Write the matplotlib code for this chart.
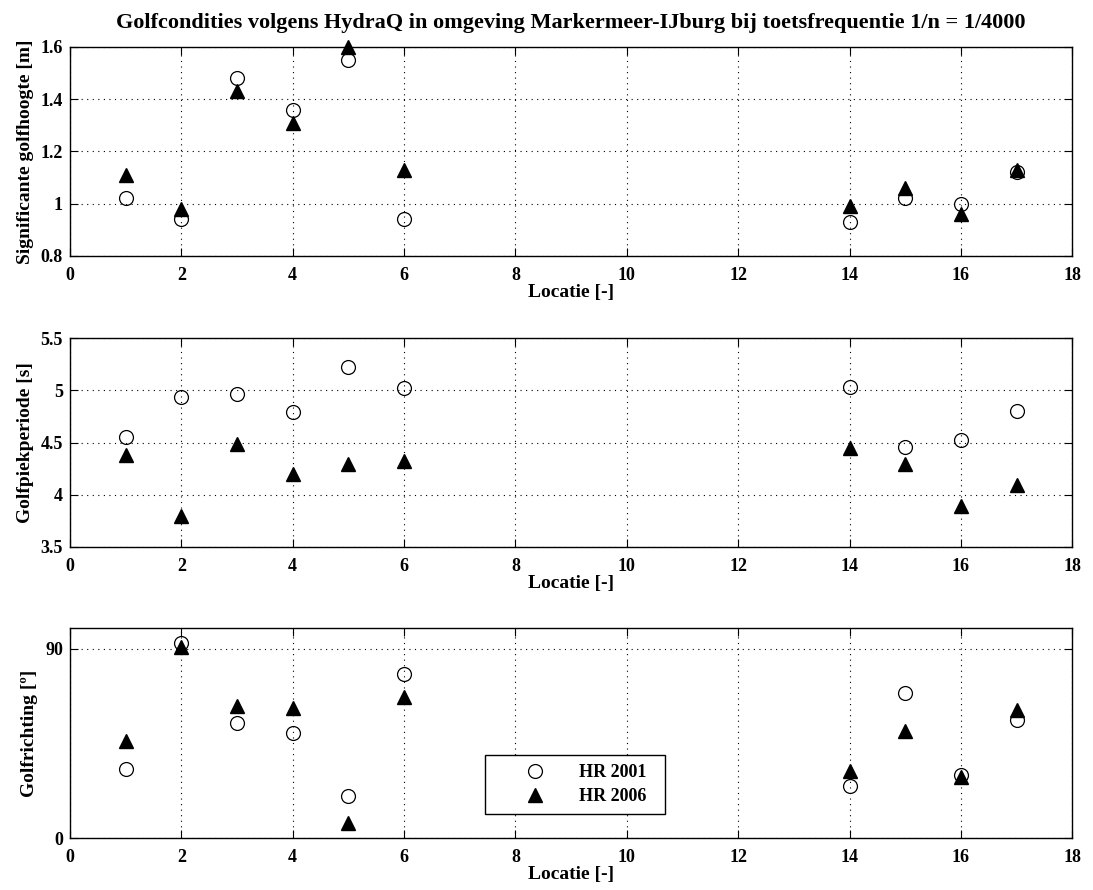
import matplotlib
matplotlib.use("Agg")
import matplotlib.pyplot as plt

plt.rcParams["font.family"] = ["Liberation Serif", "DejaVu Serif"]
plt.rcParams["font.weight"] = "bold"
plt.rcParams["axes.titleweight"] = "bold"
plt.rcParams["axes.labelweight"] = "bold"

# Locaties
locatie = [1, 2, 3, 4, 5, 6, 14, 15, 16, 17]

# Significante golfhoogte [m]
hs_2001 = [1.02, 0.94, 1.48, 1.36, 1.55, 0.94, 0.93, 1.02, 1.00, 1.12]
hs_2006 = [1.11, 0.98, 1.43, 1.31, 1.60, 1.13, 0.99, 1.06, 0.96, 1.13]

# Golfpiekperiode [s]
tp_2001 = [4.55, 4.94, 4.96, 4.79, 5.22, 5.02, 5.03, 4.46, 4.52, 4.80]
tp_2006 = [4.38, 3.80, 4.49, 4.20, 4.29, 4.32, 4.45, 4.29, 3.89, 4.09]

# Golfrichting [graden]
dir_2001 = [33, 93, 55, 50, 20, 78, 25, 69, 30, 56]
dir_2006 = [46, 91, 63, 62, 7, 67, 32, 51, 29, 61]

fig = plt.figure(figsize=(10.93, 8.9), dpi=100)
ax1 = fig.add_axes([0.064, 0.7124, 0.917, 0.2348])
ax2 = fig.add_axes([0.064, 0.3854, 0.917, 0.2348])
ax3 = fig.add_axes([0.064, 0.0584, 0.917, 0.236])

panels = [
    (ax1, hs_2001, hs_2006, "Significante golfhoogte [m]", (0.8, 1.6), [0.8, 1, 1.2, 1.4, 1.6], ["0.8", "1", "1.2", "1.4", "1.6"]),
    (ax2, tp_2001, tp_2006, "Golfpiekperiode [s]", (3.5, 5.5), [3.5, 4, 4.5, 5, 5.5], ["3.5", "4", "4.5", "5", "5.5"]),
    (ax3, dir_2001, dir_2006, "Golfrichting [º]", (0, 100), [0, 90], ["0", "90"]),
]

for ax, y1, y2, ylabel, ylim, yticks, ylabels in panels:
    ax.plot(locatie, y1, linestyle="none", marker="o", markersize=10,
            markerfacecolor="none", markeredgecolor="black", markeredgewidth=0.9,
            label="HR 2001", clip_on=False, zorder=3)
    ax.plot(locatie, y2, linestyle="none", marker="^", markersize=10,
            color="black", label="HR 2006", clip_on=False, zorder=4)
    ax.set_xlim(0, 18)
    ax.set_ylim(*ylim)
    ax.set_xticks(range(0, 19, 2))
    ax.set_yticks(yticks)
    ax.set_yticklabels(ylabels)
    ax.grid(True, color="black", linestyle=(0, (1, 4)), linewidth=0.8)
    ax.tick_params(direction="in", top=True, right=True, labelsize=13, length=6, width=0.8)
    ax.tick_params(axis="x", pad=8)
    ax.tick_params(axis="y", pad=5)
    ax.set_xlabel("Locatie [-]", fontsize=14, labelpad=0)
    ax.set_ylabel(ylabel, fontsize=14, labelpad=5)
    for s in ax.spines.values():
        s.set_linewidth(1.0)

ax1.set_title("Golfcondities volgens HydraQ in omgeving Markermeer-IJburg bij toetsfrequentie 1/n = 1/4000",
              fontsize=16, pad=14)

leg = ax3.legend(loc="upper left", bbox_to_anchor=(0.414, 0.395, 0.18, 0.0), mode="expand",
                 borderaxespad=0, fancybox=False, edgecolor="black", framealpha=1,
                 prop={"weight": "bold", "size": 13},
                 handletextpad=0.2, borderpad=0.5, labelspacing=0.4, handlelength=4.5)
leg.get_frame().set_linewidth(1.0)

plt.savefig("out.png", dpi=100)
